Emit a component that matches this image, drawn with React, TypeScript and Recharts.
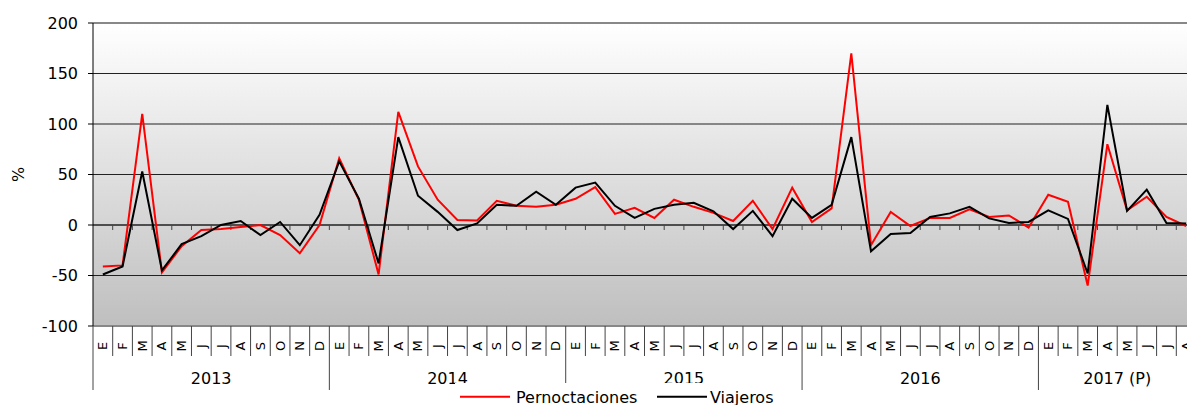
import { CartesianGrid, Legend, Line, LineChart, ReferenceLine, XAxis, YAxis } from "recharts";

const monthInitials = ["E", "F", "M", "A", "M", "J", "J", "A", "S", "O", "N", "D"];
const years = ["2013", "2014", "2015", "2016", "2017 (P)"];
const monthsPerYear = [12, 12, 12, 12, 8];

const pernoctaciones = [
  -41, -40, 110, -47, -21, -5, -4, -2, 0, -10, -28, 0,
  66, 25, -49, 112, 58, 25, 5, 4.5, 24, 19, 18, 20,
  26, 37.5, 11, 17, 7, 25, 18, 12, 4, 24, -4, 37,
  3, 16.5, 170, -20, 13, -1, 7, 7, 15.5, 8, 9.5, -2.5,
  30, 23, -60, 80, 14.5, 28, 8, -1,
];
const viajeros = [
  -49, -41, 53, -45, -19, -11, 0, 4, -10, 3, -20, 10,
  63, 26, -38, 87, 29, 13, -5, 1.5, 20, 19, 33, 20,
  37, 42, 19, 7, 16, 20, 22, 13.5, -4, 14, -11, 26,
  7, 20, 87, -26, -9, -8, 8, 11.5, 18, 6.5, 2, 3,
  14.5, 6, -48, 119, 14, 35, 2, 1.5,
];
const yTicks = [-100, -50, 0, 50, 100, 150, 200];

const series = [
  { key: "pern", name: "Pernoctaciones", color: "#ff0000" },
  { key: "viaj", name: "Viajeros", color: "#000000" },
];

const data = years.flatMap((year, yi) =>
  monthInitials.slice(0, monthsPerYear[yi]).map((m, mi) => {
    const i = yi * 12 + mi;
    return { id: `${year}-${mi}`, month: m, year, yi, mi, pern: pernoctaciones[i], viaj: viajeros[i] };
  })
);

const W = 1201;
const H = 405;
const Y_AXIS_W = 93;
const MARGIN = { top: 23, right: 5, bottom: 0, left: 0 };
const CELL = (W - Y_AXIS_W - MARGIN.right) / data.length;
const FONT = "'DejaVu Sans', Verdana, sans-serif";

function MonthTick(props: any) {
  const { x, y, payload } = props;
  const row = data[payload.index];
  const left = x - CELL / 2;
  const first = row.mi === 0;
  return (
    <g>
      <line x1={left} x2={left} y1={y} y2={y + (first ? 64 : 30)} stroke="#444" strokeWidth={1} />
      <text
        x={0}
        y={0}
        transform={`translate(${x},${y + 20}) rotate(-90)`}
        textAnchor="middle"
        dominantBaseline="central"
        fontSize={13}
        fontFamily={FONT}
        fill="#000"
      >
        {row.month}
      </text>
      {first && (
        <text x={left + (monthsPerYear[row.yi] * CELL) / 2} y={y + 58} textAnchor="middle" fontSize={16} fontFamily={FONT} fill="#000">
          {row.year}
        </text>
      )}
    </g>
  );
}

function ZeroLine(props: any) {
  const { x1, y1, x2 } = props;
  const step = (x2 - x1) / data.length;
  return (
    <g>
      <line x1={x1} x2={x2} y1={y1} y2={y1} stroke="#222" strokeWidth={1} />
      {data.map((_, i) => (
        <line key={i} x1={x1 + (i + 1) * step} x2={x1 + (i + 1) * step} y1={y1} y2={y1 + 5} stroke="#444" strokeWidth={1} />
      ))}
    </g>
  );
}

function LegendBox() {
  return (
    <svg width={330} height={22} style={{ display: "block" }}>
      <line x1={5} x2={55} y1={13.7} y2={13.7} stroke={series[0].color} strokeWidth={2} />
      <text x={61} y={20} fontSize={16} fontFamily={FONT} fill="#000">{series[0].name}</text>
      <line x1={202} x2={252} y1={13.7} y2={13.7} stroke={series[1].color} strokeWidth={2} />
      <text x={255} y={20} fontSize={16} fontFamily={FONT} fill="#000">{series[1].name}</text>
    </svg>
  );
}

export default function App() {
  return (
    <div style={{ position: "absolute", left: 0, top: 0, width: 1187, height: 405, overflow: "hidden", background: "#fff" }}>
      <LineChart width={W} height={H} data={data} margin={MARGIN}>
        <defs>
          <linearGradient id="plotBg" x1="0" y1="0" x2="0" y2="1">
            <stop offset="0%" stopColor="#ffffff" />
            <stop offset="100%" stopColor="#bfbfbf" />
          </linearGradient>
        </defs>
        <CartesianGrid vertical={false} stroke="#222" fill="url(#plotBg)" fillOpacity={1} />
        <XAxis
          dataKey="id"
          scale="band"
          interval={0}
          height={79}
          tickSize={0}
          tickMargin={0}
          tickLine={false}
          axisLine={{ stroke: "#888", strokeWidth: 2 }}
          tick={<MonthTick />}
        />
        <YAxis
          width={Y_AXIS_W}
          domain={[-100, 200]}
          ticks={yTicks}
          interval={0}
          tickSize={5}
          tickMargin={10}
          axisLine={{ stroke: "#000" }}
          tickLine={{ stroke: "#000" }}
          tick={{ fill: "#000", fontSize: 16, fontFamily: FONT }}
          label={(p: any) => (
            <text
              x={0}
              y={0}
              transform={`translate(18,${p.viewBox.y + p.viewBox.height / 2}) rotate(-90)`}
              textAnchor="middle"
              dominantBaseline="central"
              fontSize={16}
              fontFamily={FONT}
              fill="#000"
            >
              %
            </text>
          )}
        />
        <ReferenceLine y={200} stroke="#888" strokeWidth={2} />
        <ReferenceLine y={0} shape={<ZeroLine />} />
        {series.map((s) => (
          <Line
            key={s.key}
            dataKey={s.key}
            name={s.name}
            type="linear"
            stroke={s.color}
            strokeWidth={2}
            dot={false}
            activeDot={false}
            isAnimationActive={false}
          />
        ))}
        <Legend
          layout="horizontal"
          verticalAlign="middle"
          content={() => <LegendBox />}
          wrapperStyle={{ position: "absolute", left: 455, top: 383, width: 330, height: 22, background: "#fff" }}
        />
      </LineChart>
    </div>
  );
}
